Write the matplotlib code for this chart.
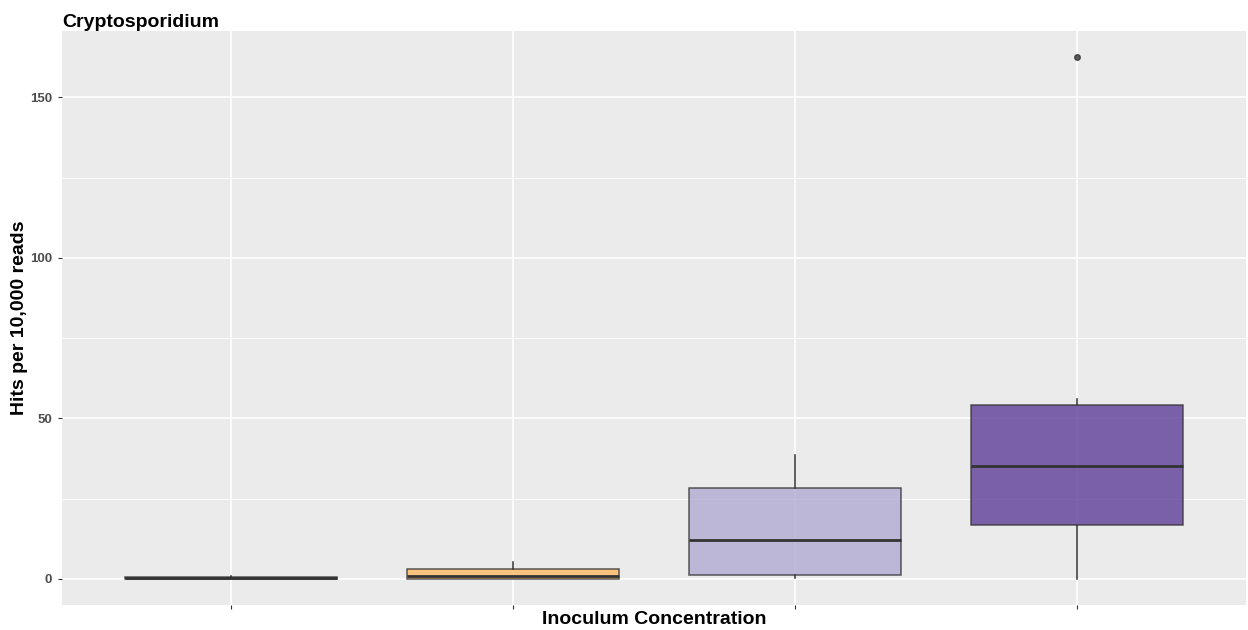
import matplotlib.pyplot as plt
import numpy as np

plt.rcParams['font.family'] = ['Liberation Sans', 'DejaVu Sans']

# box statistics (hits per 10,000 reads)
positions = [1, 2, 3, 4]
q1 = [0.0, 0.0, 1.4, 16.8]
med = [0.3, 0.9, 12.0, 35.2]
q3 = [0.6, 3.1, 28.3, 54.2]
wlo = [0.0, 0.0, 0.3, 0.0]
whi = [1.0, 5.3, 38.5, 56.1]
outliers = [[], [], [], [162.6]]
fills = ["#8c510a", "#fdb863", "#b2abd2", "#5e3c99"]

stats = []
for i in range(len(positions)):
    stats.append(dict(q1=q1[i], med=med[i], q3=q3[i], whislo=wlo[i], whishi=whi[i], fliers=outliers[i]))

fig = plt.figure(figsize=(12.48, 6.3), dpi=100)
ax = fig.add_axes([62/1248, 25/630, 1184/1248, 574/630])
ax.set_facecolor("#ebebeb")
for s in ax.spines.values():
    s.set_visible(False)

# grid like ggplot
for y in [25, 75, 125]:
    ax.axhline(y, color="white", lw=0.6, zorder=0)
for y in [0, 50, 100, 150]:
    ax.axhline(y, color="white", lw=1.2, zorder=0)
for x in positions:
    ax.axvline(x, color="white", lw=1.2, zorder=0)

bp = ax.bxp(stats, positions=positions, widths=0.75, patch_artist=True, showcaps=False,
            boxprops=dict(edgecolor="#333333", linewidth=1.1),
            medianprops=dict(color="#333333", linewidth=2.0),
            whiskerprops=dict(color="#333333", linewidth=1.1),
            flierprops=dict(marker="o", markersize=4, markerfacecolor="#333333",
                            markeredgecolor="#333333", alpha=0.8))
for patch, c in zip(bp["boxes"], fills):
    patch.set_facecolor(c)
    patch.set_alpha(0.8)

ax.set_xlim(0.4, 4.6)
ax.set_ylim(-8.1, 170.7)
ax.set_xticks(positions)
ax.set_xticklabels([])
ax.set_yticks([0, 50, 100, 150])
ax.tick_params(axis="both", colors="#333333", length=3, width=0.8)
ax.tick_params(axis="y", labelsize=9.5, labelcolor="#4d4d4d", pad=4)
for lab in ax.get_yticklabels():
    lab.set_fontweight("bold")

ax.set_xlabel("Inoculum Concentration", fontsize=14, fontweight="bold", va="center")
ax.xaxis.set_label_coords(0.5, -0.025)
ax.set_ylabel("Hits per 10,000 reads", fontsize=14, fontweight="bold", va="center")
ax.yaxis.set_label_coords(-0.036, 0.5)
ax.set_title("Cryptosporidium", loc="left", fontsize=14, fontweight="bold", pad=2)

fig.savefig("out.png", dpi=100)
